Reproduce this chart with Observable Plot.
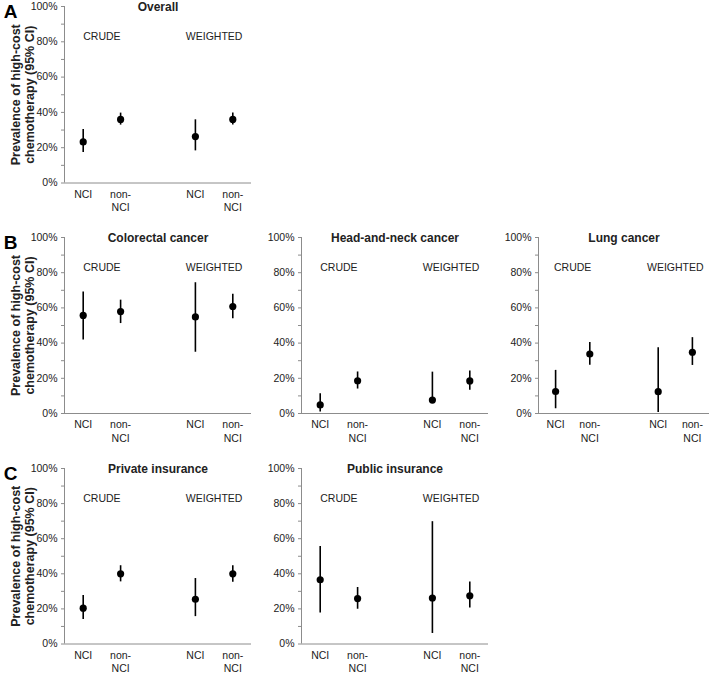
<!DOCTYPE html>
<html>
<head>
<meta charset="utf-8">
<script src="https://cdn.jsdelivr.net/npm/d3@7"></script>
<script src="https://cdn.jsdelivr.net/npm/@observablehq/plot@0.6"></script>
<style>
  html, body { margin: 0; padding: 0; background: #fff; overflow: hidden; }
  #chart { position: relative; width: 709px; height: 674px; background: #fff; }
  #chart svg { position: absolute; overflow: visible; }
</style>
</head>
<body>
<div id="chart"></div>
<script>
// ---- data ----
const panelTitles = ["Overall", "Colorectal cancer", "Head-and-neck cancer", "Lung cancer", "Private insurance", "Public insurance"];
const panelLetters = ["A", "B", "", "", "C", ""];
const methods = ["CRUDE", "WEIGHTED"];
const slots = ["NCI", "non-NCI", "", "NCI", "non-NCI"];
const yTicks = [0, 10, 20, 30, 40, 50, 60, 70, 80, 90, 100];
const yLabel = "Prevalence of high-cost\nchemotherapy (95% CI)";
// order within each panel: crude NCI, crude non-NCI, weighted NCI, weighted non-NCI
const estimate = [
  [23.3, 36.0, 26.3, 36.0],
  [55.7, 57.9, 54.9, 60.8],
  [4.9, 18.6, 7.6, 18.5],
  [12.5, 33.8, 12.4, 34.8],
  [20.4, 40.0, 25.5, 40.0],
  [36.6, 25.9, 26.2, 27.5]
];
const lower = [
  [17.3, 32.8, 18.2, 32.8],
  [41.8, 51.1, 34.8, 53.8],
  [0.8, 13.9, 6.0, 13.2],
  [2.7, 27.4, 0.6, 27.3],
  [13.9, 35.4, 15.6, 35.2],
  [17.7, 19.8, 6.0, 20.5]
];
const upper = [
  [30.3, 39.6, 35.8, 39.6],
  [69.0, 64.4, 74.3, 67.7],
  [11.2, 23.6, 23.5, 24.2],
  [24.5, 40.3, 37.3, 43.1],
  [27.6, 44.6, 37.3, 44.6],
  [55.6, 32.2, 69.7, 35.3]
];

// ---- layout (frame position of each panel, px) ----
const layout = [
  {fx: 63.5, fw: 187, ft: 6, fb: 182.5},
  {fx: 63.5, fw: 187, ft: 236.5, fb: 412.5},
  {fx: 300.5, fw: 187, ft: 236.5, fb: 412.5},
  {fx: 537.5, fw: 171, ft: 236.5, fb: 412.5},
  {fx: 63.5, fw: 187, ft: 468, fb: 643.5},
  {fx: 300.5, fw: 187, ft: 468, fb: 643.5}
];

const FONT = "'Liberation Sans', Arial, Helvetica, sans-serif";
const AXIS = "#8c8c8c";
const TEXT = "#222";
const ML = 63, MT = 10, MB = 40, MR = 2;

const slotIdx = slots.map((s, i) => s ? i : -1).filter(i => i >= 0);
const slotData = slots.map((s, i) => ({label: s, x: i + 0.5})).filter(d => d.label);
const methodData = methods.map((m, k) => ({label: m, x: (slotIdx[2 * k] + slotIdx[2 * k + 1]) / 2 + 0.5}));

const chart = document.getElementById("chart");

panelTitles.forEach((title, p) => {
  const L = layout[p];
  const rows = estimate[p].map((v, j) => ({x: slotIdx[j] + 0.5, est: v, lo: lower[p][j], hi: upper[p][j]}));
  const width = ML + L.fw + MR;
  const height = MT + (L.fb - L.ft) + MB;
  const marks = [
    Plot.ruleY([0], {stroke: AXIS, strokeWidth: 1}),
    Plot.ruleX([0], {stroke: AXIS, strokeWidth: 1}),
    Plot.axisY(yTicks, {
      tickSize: 3, tickPadding: 4, stroke: AXIS, fill: TEXT, fontSize: 10.5,
      tickFormat: d => d % 20 === 0 ? d + "%" : "", label: null
    }),
    Plot.text(slotData, {
      x: "x", text: d => d.label === "non-NCI" ? "non-\nNCI" : d.label,
      frameAnchor: "bottom", dy: 5, lineAnchor: "top", lineHeight: 1.3,
      fontSize: 10.5, fill: TEXT
    }),
    Plot.text(methodData, {
      x: "x", text: "label", frameAnchor: "top", dy: 30, lineAnchor: "middle",
      fontSize: 10.5, fill: TEXT
    }),
    Plot.text([title], {
      frameAnchor: "top", dy: 1, lineAnchor: "middle",
      fontSize: 12, fontWeight: "bold", fill: TEXT
    }),
    Plot.ruleX(rows, {x: "x", y1: "lo", y2: "hi", stroke: "#000", strokeWidth: 1.6}),
    Plot.dot(rows, {x: "x", y: "est", r: 3.6, fill: "#000", stroke: "none"})
  ];
  if (panelLetters[p]) {
    marks.push(Plot.text([panelLetters[p]], {
      frameAnchor: "top-left", dx: -54, dy: 5, lineAnchor: "middle", textAnchor: "middle",
      fontSize: 19, fontWeight: "bold", fill: "#000"
    }));
    marks.push(Plot.text([yLabel], {
      frameAnchor: "left", dx: -42, rotate: -90, textAnchor: "middle", lineAnchor: "middle",
      lineHeight: 1.15, fontSize: 12.5, fontWeight: "bold", fill: TEXT
    }));
  }
  const svg = Plot.plot({
    width, height,
    marginLeft: ML, marginTop: MT, marginBottom: MB, marginRight: MR,
    x: {domain: [0, slots.length], axis: null},
    y: {domain: [0, 100], label: null},
    style: {fontFamily: FONT, background: "transparent", overflow: "visible"},
    marks
  });
  svg.style.left = (L.fx - ML) + "px";
  svg.style.top = (L.ft - MT) + "px";
  chart.appendChild(svg);
});
</script>
</body>
</html>
